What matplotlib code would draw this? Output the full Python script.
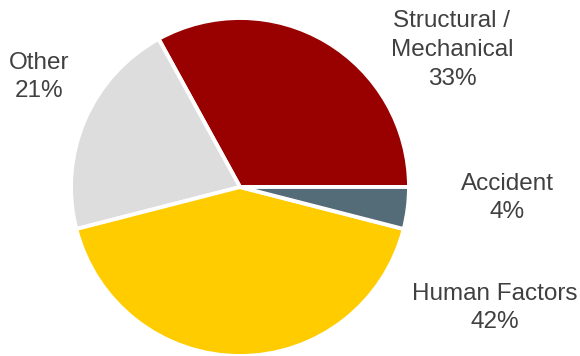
import matplotlib
matplotlib.use("Agg")
import matplotlib.pyplot as plt

#--------------------------------------------------------------------------------------
categories = ["Structural /\nMechanical", "Other", "Human Factors", "Accident"]
shares = [33, 21, 42, 4]
colors = ["#990000", "#DDDDDD", "#FFCC00", "#546B78"]

# label anchor points (data units, pie radius = 1)
label_xy = [(1.254, 0.811), (-1.189, 0.651), (1.509, -0.716), (1.580, -0.065)]

#--------------------------------------------------------------------------------------
plt.rcParams["font.family"] = ["Liberation Sans", "DejaVu Sans"]

fig = plt.figure(figsize=(5.8, 3.56), dpi=100)
ax = fig.add_axes([71 / 580, 0, 338 / 580, 338 / 356])

ax.pie(shares, colors=colors, startangle=0, counterclock=True, radius=1,
       wedgeprops=dict(edgecolor="white", linewidth=2.8))
ax.set_xlim(-1, 1)
ax.set_ylim(-1, 1)
ax.set_aspect("equal")
ax.axis("off")

for name, val, (x, y) in zip(categories, shares, label_xy):
    ax.text(x, y, f"{name}\n{val}%", ha="center", va="center",
            fontsize=17.5, color="#404040", linespacing=1.4)

fig.savefig("out.png", dpi=100)
